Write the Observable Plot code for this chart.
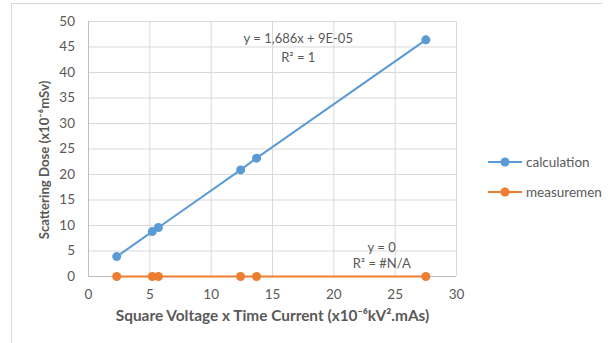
<!DOCTYPE html>
<html><head><meta charset="utf-8">
<script src="https://cdn.jsdelivr.net/npm/d3@7"></script>
<script src="https://cdn.jsdelivr.net/npm/@observablehq/plot@0.6"></script>
<style>
html,body{margin:0;padding:0;background:#fff;}
#wrap{position:relative;width:610px;height:343px;overflow:hidden;background:#fff;font-family:Lato,"Open Sans",sans-serif;}
#box{position:absolute;left:11px;top:3px;width:640px;height:400px;border:1px solid #d9d9d9;box-sizing:border-box;}
#cover{position:absolute;left:602px;top:0;width:8px;height:343px;background:#fff;}
#chart{position:absolute;left:0;top:0;width:610px;}
#chart svg{max-width:none;}
#legend{position:absolute;left:488px;top:0;width:114px;height:343px;overflow:hidden;}
.leg{position:absolute;left:0;font-size:13.5px;color:#595959;white-space:nowrap;display:flex;align-items:center;}
.leg svg{margin-right:3px;}
</style></head>
<body><div id="wrap"><div id="box"></div><div id="chart"></div><div id="legend"></div><div id="cover"></div></div>
<script>
const xValues = [2.3, 5.2, 5.7, 12.4, 13.7, 27.5];
const calculation = [3.9, 8.8, 9.6, 20.9, 23.2, 46.4];
const measurement = [0, 0, 0, 0, 0, 0];
const seriesNames = ["calculation", "measurement"];
const seriesColors = ["#5B9BD5", "#ED7D31"];
const xTicks = [0, 5, 10, 15, 20, 25, 30];
const yTicks = [0, 5, 10, 15, 20, 25, 30, 35, 40, 45, 50];
const trendLabels = [
  {x: 17.1, y: 46.6, text: "y = 1,686x + 9E-05"},
  {x: 17.1, y: 42.9, text: "R² = 1"},
  {x: 23.9, y: 5.7, text: "y = 0"},
  {x: 23.9, y: 2.5, text: "R² = #N/A"}
];

const data = [];
xValues.forEach((x, i) => {
  data.push({series: "calculation", x, y: calculation[i]});
  data.push({series: "measurement", x, y: measurement[i]});
});

const chart = Plot.plot({
  width: 610, height: 343,
  marginLeft: 88, marginRight: 154, marginTop: 21, marginBottom: 67,
  style: {fontFamily: "Lato, 'Open Sans', sans-serif", fontSize: "13.5px", color: "#595959", background: "transparent"},
  x: {domain: [0, 30], ticks: xTicks, tickSize: 0, tickPadding: 13, label: null},
  y: {domain: [0, 50], ticks: yTicks, tickSize: 0, tickPadding: 13.5, label: null},
  color: {domain: seriesNames, range: seriesColors},
  marks: [
    Plot.ruleX(xTicks.filter(d => d > 0), {stroke: "#d9d9d9", strokeWidth: 1}),
    Plot.ruleY(yTicks.filter(d => d > 0), {stroke: "#d9d9d9", strokeWidth: 1}),
    Plot.ruleX([0], {stroke: "#bfbfbf", strokeWidth: 1}),
    Plot.ruleY([0], {stroke: "#bfbfbf", strokeWidth: 1}),
    Plot.line(data, {x: "x", y: "y", z: "series", stroke: "series", strokeWidth: 2}),
    Plot.dot(data, {x: "x", y: "y", fill: "series", r: 4.5}),
    Plot.text(trendLabels, {x: "x", y: "y", text: "text", fill: "#595959", fontSize: 13}),
    Plot.text(["Square Voltage x Time Current (x10⁻⁶kV².mAs)"], {frameAnchor: "bottom", textAnchor: "middle", dy: 44, fontWeight: "bold", fontSize: 15.4, fill: "#595959"}),
    Plot.text(["Scattering Dose (x10⁻⁶mSv)"], {frameAnchor: "left", textAnchor: "middle", dx: -44, dy: 11, rotate: -90, fontWeight: "bold", fontSize: 13.2, fill: "#595959"})
  ]
});
document.getElementById("chart").appendChild(chart);

const leg = document.getElementById("legend");
const legTops = [154, 184];
seriesNames.forEach((name, i) => {
  const d = document.createElement("div");
  d.className = "leg";
  d.style.top = legTops[i] + "px";
  d.innerHTML = `<svg width="35" height="16"><line x1="0" x2="34" y1="8" y2="8" stroke="${seriesColors[i]}" stroke-width="2"/><circle cx="17" cy="8" r="4.5" fill="${seriesColors[i]}"/></svg>${name}`;
  leg.appendChild(d);
});
</script></body></html>
